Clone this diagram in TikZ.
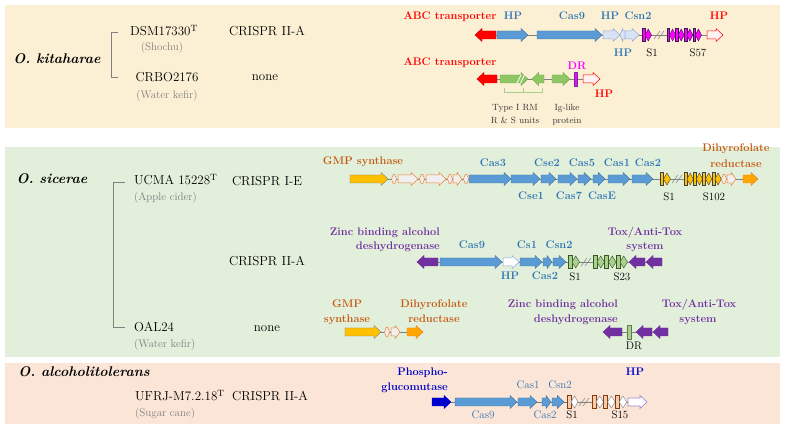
\documentclass[tikz,border=0pt]{standalone}
\usepackage{tikz}
\definecolor{bgA}{RGB}{252,240,212}
\definecolor{bgB}{RGB}{226,239,218}
\definecolor{bgC}{RGB}{251,229,214}
\definecolor{cblue}{RGB}{91,155,213}
\definecolor{cblueD}{RGB}{65,113,156}
\definecolor{tblue}{RGB}{46,117,182}
\definecolor{lblue}{RGB}{218,227,243}
\definecolor{lblueD}{RGB}{143,170,220}
\definecolor{cmag}{RGB}{255,0,255}
\definecolor{cgreen}{RGB}{141,198,99}
\definecolor{lgreen}{RGB}{169,209,142}
\definecolor{dgreen}{RGB}{56,87,35}
\definecolor{torange}{RGB}{197,90,17}
\definecolor{corange}{RGB}{237,125,49}
\definecolor{cyellow}{RGB}{255,192,0}
\definecolor{cpurple}{RGB}{112,48,160}
\definecolor{dblue}{RGB}{0,0,204}
\definecolor{peach}{RGB}{248,203,173}
\definecolor{cbrown}{RGB}{132,60,12}
\definecolor{lav}{RGB}{160,130,210}
\definecolor{tgray}{RGB}{128,128,128}
\tikzset{
  blueg/.style={fill=cblue,draw=cblueD,line width=0.4pt},
  lightg/.style={fill=lblue,draw=lblueD,line width=0.5pt},
  whiteo/.style={fill=white,draw=lblueD,line width=0.5pt},
  redg/.style={fill=red,draw=red!80!black,line width=0.4pt},
  redo/.style={fill=red!5,draw=red,line width=0.5pt},
  greeng/.style={fill=cgreen,draw=cgreen!85!black,line width=0.4pt},
  yellg/.style={fill=cyellow,draw=gray,line width=0.4pt},
  orng/.style={fill=cyellow!60!orange,draw=corange,line width=0.4pt},
  smallo/.style={fill=black!6,draw=corange,line width=0.5pt},
  purpg/.style={fill=cpurple,draw=cpurple,line width=0.4pt},
  dblueg/.style={fill=dblue,draw=dblue,line width=0.4pt},
  lavo/.style={fill=white,draw=lav,line width=0.6pt},
  magr/.style={fill=cmag,draw=cpurple!50!black,line width=0.4pt},
  yelr/.style={fill=cyellow,draw=black!75,line width=0.4pt},
  grr/.style={fill=lgreen,draw=dgreen,line width=0.4pt},
  pchr/.style={fill=peach,draw=cbrown,line width=0.4pt},
  whd/.style={fill=white,draw=gray,line width=0.4pt},
  backbone/.style={draw=gray,line width=0.6pt},
  brkline/.style={draw=gray,line width=0.5pt},
  lab/.style={inner sep=0pt,text height=0.68em,text depth=0pt},
  spc/.style={lab,font=\fontsize{14}{16}\selectfont\bfseries\itshape},
  strn/.style={lab,font=\fontsize{13}{15}\selectfont},
  srcl/.style={lab,font=\fontsize{11}{13}\selectfont,text=tgray},
  gl/.style={lab,font=\fontsize{11}{13}\selectfont\bfseries,text=tblue},
  glr/.style={lab,font=\fontsize{11}{13}\selectfont,text=tblue},
  grd/.style={gl,text=red},
  gor/.style={gl,text=torange},
  gpu/.style={gl,text=cpurple},
  gdb/.style={gl,text=dblue},
  sl/.style={lab,font=\fontsize{11}{13}\selectfont},
  sm/.style={lab,font=\fontsize{9}{10.5}\selectfont,text=black!80}
}
% right-pointing gene arrow: x1, x2, y, style
\newcommand\gR[4]{%
  \pgfmathsetmacro\hd{min(7,0.55*(#2-#1))}%
  \draw[#4] ({#1},{#3-4}) -- ({#2-\hd},{#3-4}) -- ({#2-\hd},{#3-6.5}) -- ({#2},{#3}) -- ({#2-\hd},{#3+6.5}) -- ({#2-\hd},{#3+4}) -- ({#1},{#3+4}) -- cycle;}
% left-pointing gene arrow
\newcommand\gL[4]{%
  \pgfmathsetmacro\hd{min(7,0.55*(#2-#1))}%
  \draw[#4] ({#2},{#3-4}) -- ({#1+\hd},{#3-4}) -- ({#1+\hd},{#3-6.5}) -- ({#1},{#3}) -- ({#1+\hd},{#3+6.5}) -- ({#1+\hd},{#3+4}) -- ({#2},{#3+4}) -- cycle;}
% tiny double-headed gene: xc, y, style
\newcommand\gT[3]{%
  \draw[#3] ({#1-2.5},{#2}) -- ({#1-0.8},{#2-4.5}) -- ({#1+0.8},{#2-4.5}) -- ({#1+2.5},{#2}) -- ({#1+0.8},{#2+4.5}) -- ({#1-0.8},{#2+4.5}) -- cycle;}
% repeat + spacer: x, y, rect width, diamond width, rect style, diamond style
\newcommand\rp[6]{%
  \draw[#5] ({#1},{#2-6.5}) rectangle ({#1+#3},{#2+6.5});
  \draw[#6] ({#1+#3},{#2}) -- ({#1+#3+#4/2},{#2-6}) -- ({#1+#3+#4},{#2}) -- ({#1+#3+#4/2},{#2+6}) -- cycle;}
% break mark
\newcommand\brk[2]{%
  \draw[brkline] ({#1-5},{#2+4}) -- ({#1+1},{#2-4});
  \draw[brkline] ({#1-1},{#2+4}) -- ({#1+5},{#2-4});}
\begin{document}
\begin{tikzpicture}[x=1pt,y=-1pt]
\useasboundingbox[fill=white] (0,0) rectangle (785,430);
% panels
\fill[bgA] (5,5) rectangle (780,128);
\fill[bgB] (5,147) rectangle (780,357);
\fill[bgC] (5,363) rectangle (780,424);

% ===== O. kitaharae =====
\node[spc] (k0) at (57,60) {O. kitaharae};
\draw[gray,line width=0.6pt] (118,32) -- (111,32) -- (111,77) -- (118,77);
\node[strn] (k1) at (164,32) {DSM17330\textsuperscript{T}};
\node[srcl] (k1s) at (162,47) {(Shochu)};
\node[strn] (k1c) at (267,32) {CRISPR II-A};
\node[strn] (k2) at (167,78) {CRBO2176};
\node[srcl] (k2s) at (167,95) {(Water kefir)};
\node[strn] (k2c) at (265,77) {none};

% row 1
\draw[backbone] (475,35) -- (723,35);
\gL{475}{496}{35}{redg}
\gR{497}{528}{35}{blueg}
\gR{537}{602}{35}{blueg}
\gR{603}{620}{35}{lightg}
\gL{620}{625}{35}{lightg}
\gR{625}{639}{35}{lightg}
\rp{642}{35}{3}{6.5}{magr}{magr}
\brk{659}{35}
\foreach \i in {0,...,3}{\rp{667+8.6*\i}{35}{2.6}{6}{magr}{magr}}
\gR{707}{723}{35}{redo}
\node[grd] (a1) at (450,16) {ABC transporter};
\node[gl] (a2) at (513,16) {HP};
\node[gl] (a3) at (572,16) {Cas9};
\node[gl] (a4) at (610,16) {HP};
\node[gl] (a5) at (638,16) {Csn2};
\node[grd] (a6) at (719,16) {HP};
\node[gl] (a7) at (623,53) {HP};
\node[sl] (a8) at (652,53) {S1};
\node[sl] (a9) at (698,53) {S57};

% row 2
\draw[backbone] (477,79) -- (600,79);
\gL{477}{497}{79}{redg}
\gR{500}{528}{79}{greeng}
\draw[white,line width=0.8pt] (517,83) -- (521,75) (520.5,83) -- (524.5,75);
\gL{532}{544}{79}{greeng}
\gR{552}{570}{79}{greeng}
\draw[fill=cmag,draw=cpurple,line width=0.4pt] (574,72) rectangle (577,86);
\gR{583}{600}{79}{redo}
\draw[lgreen,line width=0.7pt] (504,88) -- (504,92) -- (542,92) -- (542,88) (523,92) -- (523,88);
\node[grd] (b1) at (450,62) {ABC transporter};
\node[lab,font=\fontsize{11}{13}\selectfont\bfseries,text=cmag] (b2) at (577,66) {DR};
\node[grd] (b3) at (604,94) {HP};
\node[sm] (b4) at (515,107) {Type I RM};
\node[sm] (b5) at (515,120) {R \& S units};
\node[sm] (b6) at (567,107) {Ig-like};
\node[sm] (b7) at (567,120) {protein};

% ===== O. sicerae =====
\node[spc] (s0) at (52,180) {O. sicerae};
\draw[gray,line width=0.6pt] (125,182) -- (113,182) -- (113,327) -- (125,327);
\node[strn,anchor=west] (s1) at (134,181) {UCMA 15228\textsuperscript{T}};
\node[srcl,anchor=west] (s1s) at (134,197) {(Apple cider)};
\node[strn] (s1c) at (267,182) {CRISPR I-E};
\node[strn] (s1d) at (267,262) {CRISPR II-A};
\node[strn,anchor=west] (s2) at (134,328) {OAL24};
\node[srcl,anchor=west] (s2s) at (134,344) {(Water kefir)};
\node[strn] (s2c) at (267,328) {none};

% row I-E
\draw[backbone] (350,179) -- (758,179);
\gR{350}{388}{179}{yellg}
\gT{394}{179}{smallo}
\gR{398}{418}{179}{smallo}
\gT{422}{179}{smallo}
\gR{426}{446}{179}{smallo}
\gT{450}{179}{smallo}
\gR{453}{462}{179}{smallo}
\gT{466}{179}{smallo}
\gR{469}{511}{179}{blueg}
\gR{511}{540}{179}{blueg}
\gR{541}{556}{179}{blueg}
\gR{558}{577}{179}{blueg}
\gR{578}{591}{179}{blueg}
\gR{593}{605}{179}{blueg}
\gR{608}{630}{179}{blueg}
\gR{632}{653}{179}{blueg}
\rp{660}{179}{3.5}{7}{yelr}{yelr}
\brk{677}{179}
\foreach \i in {0,...,3}{\rp{684+9.3*\i}{179}{3}{6.3}{yelr}{yelr}}
\gT{724}{179}{smallo}
\gR{727}{736}{179}{smallo}
\gR{743}{758}{179}{orng}
\node[gor] (c1) at (363,161) {GMP synthase};
\node[gl] (c2) at (493,163) {Cas3};
\node[gl] (c3) at (547,163) {Cse2};
\node[gl] (c4) at (582,163) {Cas5};
\node[gl] (c5) at (617,163) {Cas1};
\node[gl] (c6) at (648,163) {Cas2};
\node[gor] (c7) at (736,148) {Dihyrofolate};
\node[gor] (c8) at (736,164) {reductase};
\node[gl] (c9) at (531,196) {Cse1};
\node[gl] (c10) at (569,196) {Cas7};
\node[gl] (c11) at (602,196) {CasE};
\node[sl] (c12) at (669,197) {S1};
\node[sl] (c13) at (714,197) {S102};

% row II-A
\draw[backbone] (417,262) -- (662,262);
\gL{417}{438}{262}{purpg}
\gR{440}{502}{262}{blueg}
\gR{503}{519}{262}{whiteo}
\gR{520}{542}{262}{blueg}
\gR{543}{552}{262}{blueg}
\gR{553}{566}{262}{blueg}
\rp{568}{262}{4}{7.5}{grr}{grr}
\brk{586}{262}
\foreach \i in {0,...,2}{\rp{593+11.5*\i}{262}{4}{7.5}{grr}{grr}}
\gL{629}{645}{262}{purpg}
\gL{646}{662}{262}{purpg}
\node[gpu,anchor=east] (d1) at (440,232) {Zinc binding alcohol};
\node[gpu,anchor=east] (d2) at (440,246) {deshydrogenase};
\node[gl] (d3) at (472,245) {Cas9};
\node[gl] (d4) at (527,245) {Cs1};
\node[gl] (d5) at (559,245) {Csn2};
\node[gpu] (d6) at (645,232) {Tox/Anti-Tox};
\node[gpu] (d7) at (645,246) {system};
\node[gl] (d8) at (510,276) {HP};
\node[gl] (d9) at (545,276) {Cas2};
\node[sl] (d10) at (575,277) {S1};
\node[sl] (d11) at (622,277) {S23};

% row none (OAL24)
\draw[backbone] (345,332) -- (423,332);
\gR{345}{381}{332}{yellg}
\gT{387}{332}{smallo}
\gR{391}{400}{332}{smallo}
\gR{407}{423}{332}{orng}
\draw[backbone] (603,332) -- (668,332);
\gL{603}{622}{332}{purpg}
\draw[fill=lgreen,draw=dgreen!80,line width=0.4pt] (627,325) rectangle (631,339);
\gL{636}{652}{332}{purpg}
\gL{653}{668}{332}{purpg}
\node[gor] (e1) at (347,304) {GMP};
\node[gor] (e2) at (347,319) {synthase};
\node[gor] (e3) at (434,304) {Dihyrofolate};
\node[gor] (e4) at (434,319) {reductase};
\node[gpu,anchor=east] (e5) at (618,304) {Zinc binding alcohol};
\node[gpu,anchor=east] (e6) at (618,319) {deshydrogenase};
\node[gpu] (e7) at (699,304) {Tox/Anti-Tox};
\node[gpu] (e8) at (698,319) {system};
\node[sl] (e9) at (634,346) {DR};

% ===== O. alcoholitolerans =====
\node[spc] (o0) at (84,373) {O. alcoholitolerans};
\node[strn,anchor=west] (o1) at (135,397) {UFRJ-M7.2.18\textsuperscript{T}};
\node[srcl,anchor=west] (o1s) at (135,413) {(Sugar cane)};
\node[strn] (o1c) at (270,397) {CRISPR II-A};
\draw[backbone] (432,402) -- (647,402);
\gR{432}{451}{402}{dblueg}
\gR{455}{517}{402}{blueg}
\gR{518}{537}{402}{blueg}
\gR{542}{551}{402}{blueg}
\gR{552}{564}{402}{blueg}
\rp{567}{402}{4}{7}{pchr}{whd}
\brk{584}{402}
\foreach \i in {0,...,2}{\rp{592+11.6*\i}{402}{4}{7.5}{pchr}{whd}}
\gR{628}{647}{402}{lavo}
\node[gdb,anchor=east] (f1) at (448,372) {Phospho-};
\node[gdb,anchor=east] (f2) at (448,387) {glucomutase};
\node[glr] (f3) at (528,385) {Cas1};
\node[glr] (f4) at (560,385) {Csn2};
\node[gdb] (f5) at (635,372) {HP};
\node[glr] (f6) at (483,415) {Cas9};
\node[glr] (f7) at (545,415) {Cas2};
\node[sl] (f8) at (572,415) {S1};
\node[sl] (f9) at (620,415) {S15};
\end{tikzpicture}
\end{document}
